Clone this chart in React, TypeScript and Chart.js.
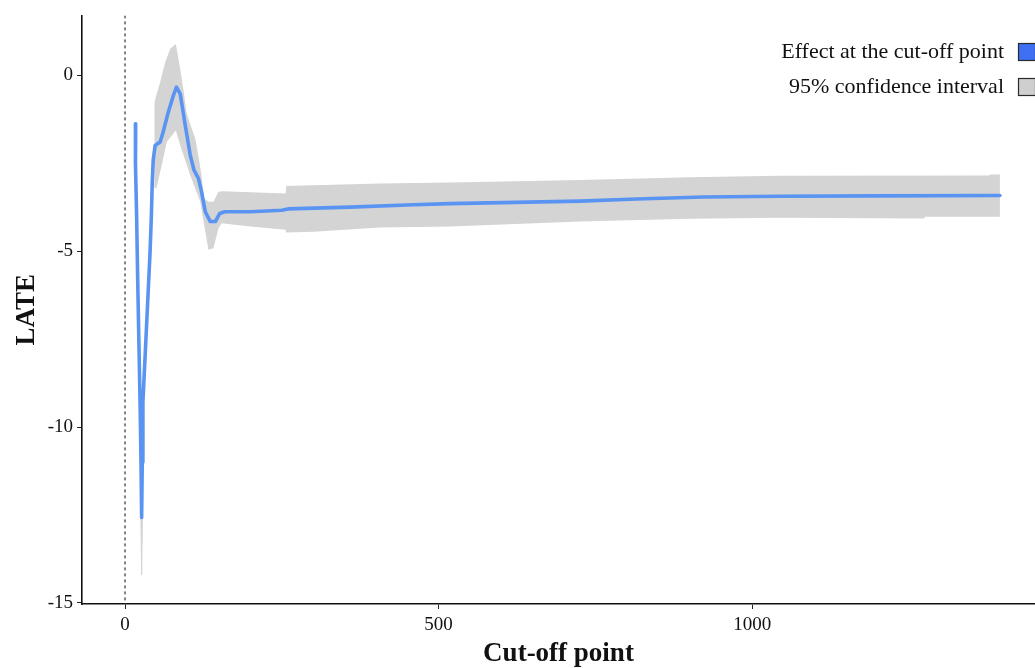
import React, { useEffect, useRef } from "react";
import { Chart, registerables } from "chart.js";

Chart.register(...registerables);

// ---- data ----
const lineX = [17, 17, 16, 16, 17.5, 18.5, 20, 22, 24, 25.5, 26.5, 27.5, 28.5, 32, 36, 40, 42, 43.5, 45, 48, 52, 56, 61, 69, 77, 82, 88, 96, 104, 110, 117, 122, 128, 136, 144, 151, 159, 200, 250, 260, 359, 460, 518, 726, 816, 922, 1045, 1200, 1395];
const lineY = [-1.38, -1.95, -2.0, -2.4, -2.5, -4.0, -5.6, -7.5, -9.3, -11.0, -12.57, -11.0, -9.3, -8.0, -6.5, -5.0, -4.0, -3.0, -2.4, -2.0, -1.95, -1.9, -1.6, -1.05, -0.58, -0.34, -0.53, -1.42, -2.27, -2.7, -2.93, -3.31, -3.88, -4.16, -4.16, -3.93, -3.88, -3.88, -3.84, -3.8, -3.75, -3.68, -3.65, -3.58, -3.52, -3.46, -3.44, -3.43, -3.42];

const ciUpperX = [47, 49, 56, 64, 72, 81, 88, 93, 98, 104, 112, 118, 122, 126, 133, 141, 149, 155, 200, 256, 257, 300, 407, 518, 726, 900, 1045, 1378, 1380, 1395];
const ciUpper = [-0.8, -0.62, -0.2, 0.37, 0.75, 0.89, 0.18, -0.4, -1.05, -1.4, -1.8, -2.4, -2.84, -3.5, -3.6, -3.6, -3.31, -3.3, -3.33, -3.36, -3.15, -3.13, -3.08, -3.05, -2.98, -2.9, -2.86, -2.85, -2.82, -2.82];
const ciLowerX = [47, 50, 58.5, 66.5, 81, 88, 104, 120, 128, 133, 141, 149, 154, 200, 256, 257, 300, 407, 518, 726, 900, 1045, 1274, 1276, 1395];
const ciLower = [-3.2, -3.22, -2.56, -1.9, -1.57, -1.99, -2.84, -3.6, -4.44, -4.96, -4.92, -4.35, -4.21, -4.3, -4.39, -4.47, -4.45, -4.33, -4.3, -4.16, -4.08, -4.05, -4.07, -4.02, -4.02];

const spikeX = [25.3, 26.5, 27.7];
const spikeUpper = [-12.0, -12.4, -12.0];
const spikeLower = [-12.6, -14.2, -12.6];

const xTicks = [0, 500, 1000];
const yTicks = [0, -5, -10, -15];
const xRange = [-68.6, 1451];
const yRange = [-15.03, 1.7];

const legendLabels = ["Effect at the cut-off point", "95% confidence interval"];
const legendFills = ["#3f70f4", "#cfcfcf"];

const FONT = '"Liberation Serif", "Times New Roman", serif';

function polygon(ux: number[], uy: number[], lx: number[], ly: number[]) {
  const pts: { x: number; y: number }[] = [];
  for (let i = 0; i < ux.length; i++) pts.push({ x: ux[i], y: uy[i] });
  for (let i = lx.length - 1; i >= 0; i--) pts.push({ x: lx[i], y: ly[i] });
  pts.push({ x: ux[0], y: uy[0] });
  return pts;
}

const legendPlugin = {
  id: "insideLegend",
  afterDraw(chart: any) {
    const ctx = chart.ctx as CanvasRenderingContext2D;
    const right = chart.chartArea.right;
    ctx.save();
    ctx.font = `22px ${FONT}`;
    ctx.textAlign = "right";
    ctx.textBaseline = "middle";
    legendLabels.forEach((label, i) => {
      const cy = 52 + i * 35;
      ctx.fillStyle = "#111";
      ctx.fillText(label, right - 31, cy);
      ctx.fillStyle = legendFills[i];
      ctx.fillRect(right - 17, cy - 9, 18, 18);
      ctx.strokeStyle = "#2a2a2a";
      ctx.lineWidth = 1.2;
      ctx.strokeRect(right - 16.5, cy - 8.5, 17, 17);
    });
    ctx.restore();
  },
};

export default function App() {
  const ref = useRef<HTMLCanvasElement | null>(null);
  useEffect(() => {
    if (!ref.current) return;
    const chart = new Chart(ref.current, {
      type: "line",
      data: {
        datasets: [
          {
            label: "Effect at the cut-off point",
            data: lineX.map((x, i) => ({ x, y: lineY[i] })),
            borderColor: "#5a94f2",
            borderWidth: 3.6,
            pointRadius: 0,
            tension: 0,
            fill: false,
            borderJoinStyle: "round",
            borderCapStyle: "round",
            order: 1,
          } as any,
          {
            label: "cutoff",
            data: [
              { x: 0, y: yRange[1] },
              { x: 0, y: yRange[0] },
            ],
            borderColor: "#333",
            borderWidth: 1.2,
            borderDash: [3, 3],
            pointRadius: 0,
            fill: false,
            order: 2,
          } as any,
          {
            label: "95% confidence interval",
            data: polygon(ciUpperX, ciUpper, ciLowerX, ciLower),
            borderColor: "rgba(0,0,0,0)",
            borderWidth: 0,
            backgroundColor: "#d4d4d4",
            pointRadius: 0,
            tension: 0,
            fill: "shape",
            order: 3,
          } as any,
          {
            label: "spike CI",
            data: polygon(spikeX, spikeUpper, spikeX, spikeLower),
            borderColor: "#d4d4d4",
            borderWidth: 1,
            backgroundColor: "#d4d4d4",
            pointRadius: 0,
            tension: 0,
            fill: "shape",
            order: 4,
          } as any,
        ],
      },
      options: {
        responsive: false,
        animation: false,
        layout: { padding: { top: 13, right: 0, left: 0, bottom: 0 } },
        plugins: {
          legend: { display: false },
          tooltip: { enabled: false },
        },
        scales: {
          x: {
            type: "linear",
            min: xRange[0],
            max: xRange[1],
            afterBuildTicks: (s: any) => {
              s.ticks = xTicks.map((v) => ({ value: v }));
            },
            afterFit: (s: any) => {
              s.height = 64;
            },
            grid: { display: true, drawOnChartArea: false, drawTicks: true, tickLength: 5, color: "#222", lineWidth: 1 },
            border: { display: true, color: "#111", width: 1.6 },
            ticks: {
              color: "#111",
              font: { family: FONT, size: 19 },
              padding: 5,
              maxRotation: 0,
              callback: (v: any) => String(v),
            },
            title: {
              display: true,
              text: "Cut-off point",
              color: "#111",
              font: { family: FONT, size: 27, weight: "bold", lineHeight: 1.05 },
              padding: { top: 0, bottom: 0 },
            },
          },
          y: {
            type: "linear",
            min: yRange[0],
            max: yRange[1],
            afterBuildTicks: (s: any) => {
              s.ticks = yTicks.map((v) => ({ value: v }));
            },
            afterFit: (s: any) => {
              s.width = 82;
            },
            grid: { display: true, drawOnChartArea: false, drawTicks: true, tickLength: 5, color: "#222", lineWidth: 1 },
            border: { display: true, color: "#111", width: 1.6 },
            ticks: {
              color: "#111",
              font: { family: FONT, size: 19 },
              padding: 4,
              callback: (v: any) => String(v),
            },
            title: {
              display: true,
              text: "LATE",
              color: "#111",
              font: { family: FONT, size: 27, weight: "bold", lineHeight: 1.05 },
              padding: { top: 13, bottom: 0 },
            },
          },
        },
      } as any,
      plugins: [legendPlugin],
    });
    return () => chart.destroy();
  }, []);
  return (
    <div style={{ position: "fixed", left: 0, top: 0, width: 1035, height: 668, background: "#fff" }}>
      <canvas ref={ref} width={1035} height={668} />
    </div>
  );
}
